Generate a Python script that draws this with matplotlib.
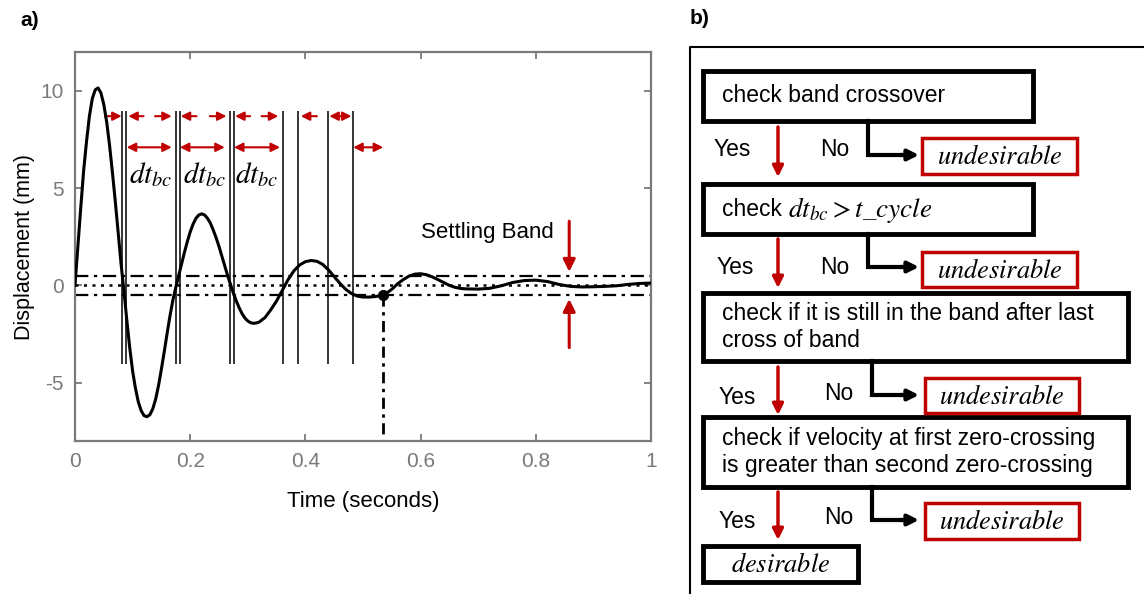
import numpy as np
import matplotlib
matplotlib.use("Agg")
import matplotlib.pyplot as plt
from matplotlib.patches import Rectangle

plt.rcParams['font.family'] = ['Liberation Sans', 'DejaVu Sans']
plt.rcParams['mathtext.fontset'] = 'stix'
plt.rcParams['axes.unicode_minus'] = False

red = '#c00000'
gray = '#7a7a7a'

# displacement curve (time s, displacement mm)
t = [0.000, 0.005, 0.010, 0.015, 0.020, 0.025, 0.030, 0.035, 0.040, 0.045,
     0.050, 0.055, 0.060, 0.065, 0.070, 0.075, 0.080, 0.085, 0.090, 0.095,
     0.100, 0.105, 0.110, 0.115, 0.120, 0.125, 0.130, 0.135, 0.140, 0.145,
     0.150, 0.155, 0.160, 0.165, 0.170, 0.175, 0.180, 0.185, 0.190, 0.195,
     0.200, 0.205, 0.210, 0.215, 0.220, 0.225, 0.230, 0.235, 0.240, 0.245,
     0.250, 0.255, 0.260, 0.265, 0.270, 0.275, 0.280, 0.285, 0.290, 0.295,
     0.300, 0.305, 0.310, 0.315, 0.320, 0.330, 0.340, 0.350, 0.360, 0.370,
     0.380, 0.390, 0.400, 0.410, 0.420, 0.430, 0.440, 0.450, 0.460, 0.470,
     0.480, 0.490, 0.500, 0.510, 0.520, 0.530, 0.540, 0.550, 0.560, 0.570,
     0.580, 0.590, 0.600, 0.610, 0.620, 0.630, 0.640, 0.650, 0.660, 0.670,
     0.680, 0.700, 0.720, 0.740, 0.760, 0.780, 0.800, 0.820, 0.840, 0.860,
     0.880, 0.900, 0.920, 0.940, 0.960, 0.980, 1.000]
disp = [0.0, 2.0, 4.0, 5.9, 7.4, 8.7, 9.6, 10.05, 10.15, 9.9,
        9.3, 8.4, 7.2, 5.8, 4.3, 2.7, 1.1, -0.3, -1.8, -3.2,
        -4.4, -5.3, -6.0, -6.45, -6.7, -6.75, -6.65, -6.35, -5.85, -5.15,
        -4.3, -3.4, -2.45, -1.55, -0.75, -0.1, 0.5, 1.1, 1.7, 2.25,
        2.75, 3.15, 3.45, 3.62, 3.68, 3.62, 3.45, 3.2, 2.85, 2.45,
        2.0, 1.5, 1.0, 0.5, 0.05, -0.4, -0.8, -1.15, -1.45, -1.68,
        -1.83, -1.92, -1.95, -1.93, -1.88, -1.65, -1.25, -0.8, -0.25, 0.3,
        0.75, 1.05, 1.22, 1.28, 1.24, 1.08, 0.8, 0.45, 0.1, -0.2,
        -0.42, -0.55, -0.6, -0.6, -0.58, -0.53, -0.42, -0.2, 0.08, 0.3,
        0.48, 0.58, 0.6, 0.55, 0.44, 0.3, 0.15, 0.0, -0.1, -0.16,
        -0.18, -0.19, -0.15, -0.02, 0.15, 0.25, 0.27, 0.2, 0.05, -0.05,
        -0.08, -0.07, -0.05, -0.02, 0.05, 0.1, 0.12]

band = 0.5
settle_t = 0.535
settle_y = -0.5
cross_t = [0.082, 0.089, 0.175, 0.182, 0.269, 0.276, 0.361, 0.387, 0.439, 0.483]
cross_top = 8.95
cross_bottom = -4.05

# red dimension arrows (tail, head) on the two rows
row1_y = 8.7
row1_single = [(0.052, 0.081), (0.119, 0.0925), (0.139, 0.168), (0.211, 0.1835),
               (0.234, 0.263), (0.304, 0.278), (0.324, 0.353), (0.420, 0.392)]
row1_double = [(0.4415, 0.480)]
row2_y = 7.1
row2_double = [(0.0898, 0.168), (0.182, 0.260), (0.276, 0.356), (0.483, 0.535)]
dt_label_t = [0.132, 0.226, 0.316]
dt_label_y = 5.7

fig = plt.figure(figsize=(11.44, 5.94), dpi=100)
ax = fig.add_axes([75 / 1144, 1 - 441 / 594, 576 / 1144, 389 / 594])

ax.plot(t, disp, color='black', lw=2.2, zorder=5)
ax.axhline(band, color='black', lw=1.6, ls=(0, (6, 2.5, 1.5, 2.5)))
ax.axhline(-band, color='black', lw=1.6, ls=(0, (6, 2.5, 1.5, 2.5)))
ax.axhline(0, color='black', lw=1.8, ls=(0, (1.2, 2.2)))
ax.vlines(cross_t, cross_bottom, cross_top, color='black', lw=1.1)
ax.plot([settle_t, settle_t], [settle_y, -8], color='black', lw=2,
        ls=(0, (4, 2, 1.2, 2)))
ax.plot(settle_t, settle_y, 'o', color='black', ms=7, zorder=6)

arr = dict(color=red, lw=1.5, mutation_scale=13, shrinkA=0, shrinkB=0)
for a, b in row1_single:
    ax.annotate('', xy=(b, row1_y), xytext=(a, row1_y),
                arrowprops=dict(arrowstyle='-|>', **arr))
for a, b in row1_double:
    ax.annotate('', xy=(b, row1_y), xytext=(a, row1_y),
                arrowprops=dict(arrowstyle='<|-|>', **arr))
for a, b in row2_double:
    ax.annotate('', xy=(b, row2_y), xytext=(a, row2_y),
                arrowprops=dict(arrowstyle='<|-|>', **arr))
for x in dt_label_t:
    ax.text(x, dt_label_y, r'$dt_{bc}$', fontsize=21, ha='center', va='center')

ax.text(0.832, 2.7, 'Settling Band', fontsize=16, ha='right', va='center')
ax.annotate('', xy=(0.858, 0.7), xytext=(0.858, 3.3),
            arrowprops=dict(arrowstyle='-|>', color=red, lw=2.2, mutation_scale=18,
                            shrinkA=0, shrinkB=0))
ax.annotate('', xy=(0.858, -0.7), xytext=(0.858, -3.2),
            arrowprops=dict(arrowstyle='-|>', color=red, lw=2.2, mutation_scale=18,
                            shrinkA=0, shrinkB=0))

ax.set_xlim(0, 1)
ax.set_ylim(-8, 12)
ax.set_xticks([0, 0.2, 0.4, 0.6, 0.8, 1])
ax.set_xticklabels(['0', '0.2', '0.4', '0.6', '0.8', '1'])
ax.set_yticks([-5, 0, 5, 10])
ax.tick_params(direction='in', top=True, right=True, length=5, width=1.3,
               color=gray, labelcolor=gray, labelsize=15, pad=8)
for s in ax.spines.values():
    s.set_color(gray)
    s.set_linewidth(1.6)
ax.set_xlabel('Time (seconds)', fontsize=16, labelpad=14)
ax.set_ylabel('Displacement (mm)', fontsize=15.5, labelpad=4)

fig.text(20 / 1144, 1 - 20 / 594, 'a)', fontsize=15, fontweight='bold', va='center')
fig.text(690 / 1144, 1 - 18 / 594, 'b)', fontsize=15, fontweight='bold', va='center')

# flowchart drawn in pixel coordinates
fc = fig.add_axes([0, 0, 1, 1])
fc.set_xlim(0, 1144)
fc.set_ylim(594, 0)
fc.axis('off')

fc.plot([690, 690, 1144], [594, 47, 47], color='black', lw=1.5)

boxes = [(703, 71, 1033, 121), (703, 184, 1033, 234), (703, 293, 1128, 361),
         (703, 417, 1128, 487), (703, 546, 858, 582)]
box_text = ['check band crossover',
            'check',
            'check if it is still in the band after last\ncross of band',
            'check if velocity at first zero-crossing\nis greater than second zero-crossing',
            None]
cycle_text = r'$dt_{bc} > t\_cycle$'
red_boxes = [(922, 138, 1077, 174), (922, 252, 1077, 287),
             (925, 378, 1079, 413), (925, 503, 1079, 539)]
yes_pos = [(732, 150), (735, 267), (737, 398), (737, 521)]
no_pos = [(835, 150), (835, 267), (839, 393), (839, 518)]
red_arrows = [(127, 177), (239, 288), (367, 415), (492, 540)]
red_arrow_x = 778
connectors = [(868, 121, 155), (868, 234, 267), (872, 361, 395), (872, 487, 520)]

for (x0, y0, x1, y1), txt in zip(boxes, box_text):
    fc.add_patch(Rectangle((x0, y0), x1 - x0, y1 - y0, fill=False,
                           ec='black', lw=3.5))
    if txt:
        fc.text(x0 + 19, (y0 + y1) / 2, txt, fontsize=16.5, ha='left', va='center',
                linespacing=1.2)
x0, y0, x1, y1 = boxes[1]
fc.text(788, (y0 + y1) / 2 + 1, cycle_text, fontsize=19.5, ha='left', va='center')
x0, y0, x1, y1 = boxes[-1]
fc.text((x0 + x1) / 2, (y0 + y1) / 2 + 1, r'$desirable$', fontsize=19,
        ha='center', va='center')

for (x0, y0, x1, y1) in red_boxes:
    fc.add_patch(Rectangle((x0, y0), x1 - x0, y1 - y0, fill=False, ec=red, lw=2.5))
    fc.text((x0 + x1) / 2, (y0 + y1) / 2 + 1, r'$undesirable$', fontsize=19,
            ha='center', va='center')

for x, y in yes_pos:
    fc.text(x, y, 'Yes', fontsize=16.5, ha='center', va='center')
for x, y in no_pos:
    fc.text(x, y, 'No', fontsize=16.5, ha='center', va='center')

for ya, yb in red_arrows:
    fc.annotate('', xy=(red_arrow_x, yb), xytext=(red_arrow_x, ya),
                arrowprops=dict(arrowstyle='-|>', color=red, lw=2.5,
                                mutation_scale=16, shrinkA=0, shrinkB=0))

for x, ya, yb in connectors:
    fc.plot([x, x, 905], [ya, yb, yb], color='black', lw=3, solid_joinstyle='miter')
    fc.annotate('', xy=(919, yb), xytext=(900, yb),
                arrowprops=dict(arrowstyle='-|>', color='black', lw=3,
                                mutation_scale=16, shrinkA=0, shrinkB=0))

fig.savefig('out.png', dpi=100)
